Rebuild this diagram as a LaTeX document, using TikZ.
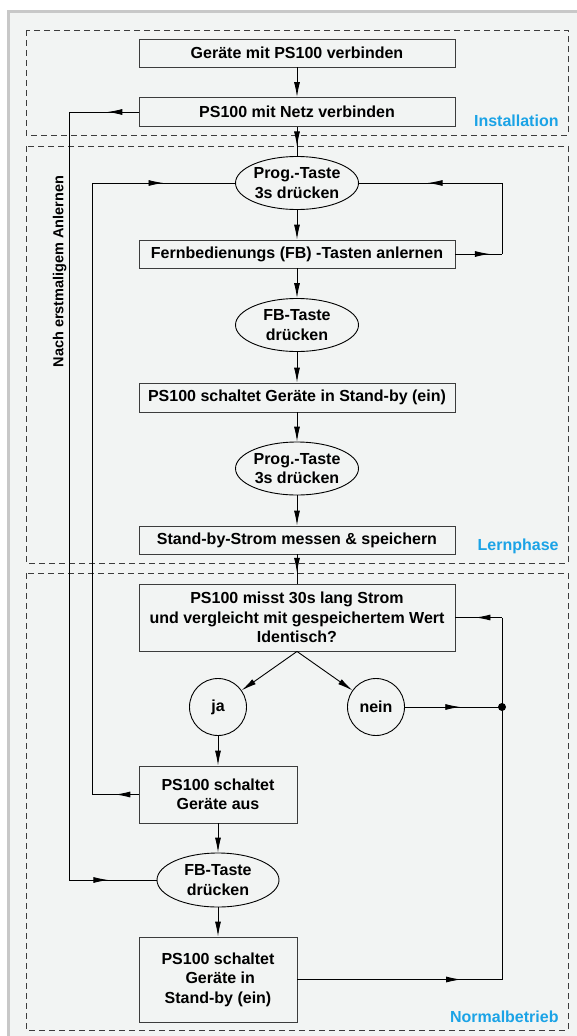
\documentclass[tikz,border=0pt]{standalone}
\usepackage{fontspec}
\setmainfont{Liberation Sans}
\usetikzlibrary{arrows.meta, shapes.geometric, decorations.markings}
\definecolor{bgfill}{RGB}{242,244,243}
\definecolor{bgrand}{RGB}{200,200,200}
\definecolor{phaseblau}{RGB}{27,163,230}
\definecolor{rahmen}{RGB}{60,60,60}
\tikzset{
  every node/.style={font=\fontsize{16}{19.5}\selectfont\bfseries, align=center, inner sep=0pt},
  kasten/.style={draw=rahmen, rectangle, fill=bgfill},
  oval/.style={draw, ellipse, fill=bgfill, minimum width=123pt, minimum height=53pt},
  kreis/.style={draw, circle, fill=bgfill, minimum size=57pt},
  phase/.style={draw=rahmen, dash pattern=on 6pt off 4pt, line width=0.8pt},
  phasename/.style={text=phaseblau, anchor=base east},
  flow/.style={-{Latex[length=15pt,width=6pt]}},
  midarrow/.style={decoration={markings, mark=at position #1 with {\arrow{Latex[length=15pt,width=6pt]}}}, postaction={decorate}}
}

\begin{document}
\begin{tikzpicture}[x=1pt, y=-1pt, line width=0.9pt]

\useasboundingbox (0,0) rectangle (577,1036);
\fill[bgfill] (8,11) rectangle (577,1036);
\draw[bgrand, line width=3pt] (8,1036) -- (8,11) -- (577,11);

% Phasen
\draw[phase] (26,30) rectangle (568,135);
\draw[phase] (26,146) rectangle (568,563);
\draw[phase] (26,573) rectangle (568,1030);

\node[phasename] at (559,126) {Installation};
\node[phasename] at (559,550) {Lernphase};
\node[phasename] at (559,1022) {Normalbetrieb};

% Installation
\node[kasten, minimum width=316pt, minimum height=28pt] (geraete) at (297,53) {Geräte mit PS100 verbinden};
\node[kasten, minimum width=316pt, minimum height=29pt] (netz) at (297,112) {PS100 mit Netz verbinden};

% Lernphase
\node[oval] (prog1) at (297,183) {Prog.-Taste\\3s drücken};
\node[kasten, minimum width=316pt, minimum height=28pt] (anlernen) at (297,254) {Fernbedienungs (FB) -Tasten anlernen};
\node[oval] (fb1) at (297,325) {FB-Taste\\drücken};
\node[kasten, minimum width=316pt, minimum height=29pt] (standby) at (297,397.5) {PS100 schaltet Geräte in Stand-by (ein)};
\node[oval] (prog2) at (297,468.5) {Prog.-Taste\\3s drücken};
\node[kasten, minimum width=316pt, minimum height=28pt] (messen) at (297,540) {Stand-by-Strom messen \& speichern};

% Normalbetrieb
\node[kasten, minimum width=316pt, minimum height=67pt] (vergl) at (297,617.5) {PS100 misst 30s lang Strom\\und vergleicht mit gespeichertem Wert\\Identisch?};
\node[kreis] (ja) at (218,707) {ja};
\node[kreis] (nein) at (376,707) {nein};
\node[circle, fill, minimum size=8pt] (punkt) at (502,707) {};
\node[kasten, minimum width=158pt, minimum height=57pt] (aus) at (218,794.5) {PS100 schaltet\\Geräte aus};
\node[oval, minimum width=122pt, minimum height=54pt] (fb2) at (218,880) {FB-Taste\\drücken};
\node[kasten, minimum width=158pt, minimum height=85pt] (ein) at (218,979.5) {PS100 schaltet\\\ Geräte in\\Stand-by (ein)};

\node[rotate=90, anchor=south, font=\fontsize{14.5}{17}\selectfont\bfseries] at (67,271.5) {Nach erstmaligem Anlernen};

\coordinate (n1) at (69,112);
\coordinate (n2) at (69,880);
\coordinate (l1) at (92,183);
\coordinate (l2) at (92,794.5);
\coordinate (r1) at (502,183);
\coordinate (r2) at (502,254);
\coordinate (r3) at (502,617.5);
\coordinate (r4) at (502,979.5);

% Verbindungen
\draw[flow] (geraete) -- (netz);
\draw[midarrow=0.67] (netz.south) -- (prog1.north);
\draw[flow] (prog1) -- (anlernen);
\draw[flow] (anlernen) -- (fb1);
\draw[flow] (fb1) -- (standby);
\draw[flow] (standby) -- (prog2);
\draw[flow] (prog2) -- (messen);
\draw[midarrow=0.63] (messen.south) -- (vergl.north);

\draw[flow] (vergl.south) -- (ja);
\draw[flow] (vergl.south) -- (nein);
\draw[flow] (ja) -- (aus);
\draw[flow] (aus) -- (fb2);
\draw[flow] (fb2) -- (ein);

\draw[midarrow=0.45] (netz.west) -- (n1);
\draw (n1) -- (n2);
\draw[midarrow=0.45] (n2) -- (fb2.west);

\draw[midarrow=0.5] (aus.west) -- (l2);
\draw (l2) -- (l1);
\draw[midarrow=0.5] (l1) -- (prog1.west);

\draw[midarrow=0.74] (anlernen.east) -- (r2);
\draw (r2) -- (r1);
\draw[midarrow=0.52] (r1) -- (prog1.east);

\draw[midarrow=0.57] (nein) -- (punkt.center);
\draw[midarrow=0.8] (ein.east) -- (r4);
\draw (r4) -- (r3);
\draw[midarrow=0.57] (r3) -- (vergl.east);

\end{tikzpicture}
\end{document}
